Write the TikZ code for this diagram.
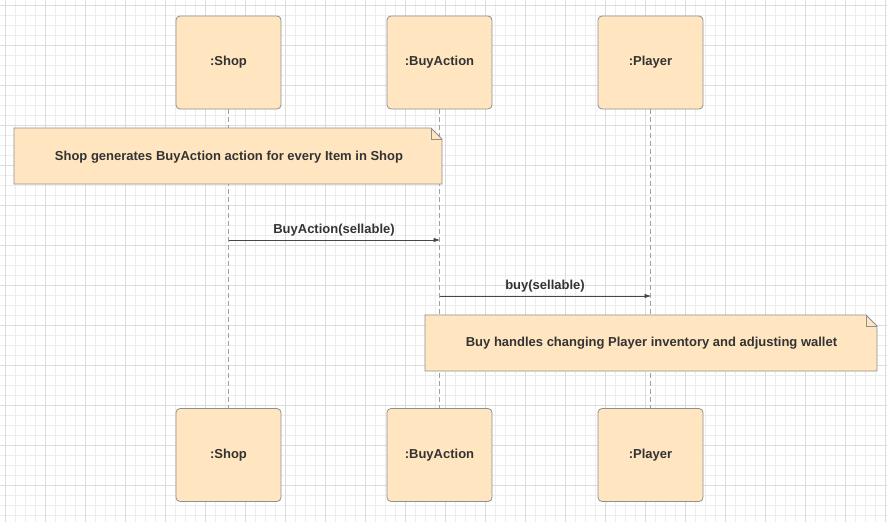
\documentclass[tikz,border=0pt]{standalone}
\usepackage{fontspec}
\setmainfont{Liberation Sans}
\usetikzlibrary{arrows.meta}
\definecolor{boxfill}{HTML}{FFE6C0}
\definecolor{boxline}{HTML}{8F8F8F}
\definecolor{txt}{HTML}{333333}
\definecolor{gridminor}{HTML}{EDEDED}
\definecolor{gridmajor}{HTML}{DCDCDC}
\definecolor{lifeline}{HTML}{A0A0A0}
\tikzset{
  obj/.style={draw=boxline, fill=boxfill, rounded corners=4pt, line width=0.8pt,
    minimum width=105pt, minimum height=93pt, inner sep=0pt,
    font=\fontsize{13}{15}\selectfont\bfseries, text=txt},
  life/.style={draw=lifeline, dash pattern=on 5pt off 3pt, line width=1pt},
  msg/.style={draw=txt!90, line width=0.6pt, -{Triangle[length=6pt,width=4pt]}},
  msglabel/.style={font=\fontsize{13}{15}\selectfont\bfseries, text=txt, inner sep=1pt},
  notetext/.style={font=\fontsize{13}{15}\selectfont\bfseries, text=txt},
  notebox/.style={draw=boxline, fill=boxfill, line width=0.8pt}
}
\begin{document}
\begin{tikzpicture}[x=1pt,y=-1pt]
\useasboundingbox (0,0) rectangle (887,522);
\fill[white] (0,0) rectangle (887,522);
% grid
\foreach \i in {5,15,...,885} {\draw[gridminor, line width=0.8pt] (\i,0) -- (\i,522);}
\foreach \i in {5,15,...,521} {\draw[gridminor, line width=0.8pt] (0,\i) -- (887,\i);}
\foreach \i in {5,45,...,885} {\draw[gridmajor, line width=0.9pt] (\i,0) -- (\i,522);}
\foreach \i in {5,45,...,521} {\draw[gridmajor, line width=0.9pt] (0,\i) -- (887,\i);}
% lifelines
\coordinate (ls) at (228.5,109);
\coordinate (lb) at (439.5,109);
\coordinate (lp) at (650.5,109);
\coordinate (ls2) at (228.5,408);
\coordinate (lb2) at (439.5,408);
\coordinate (lp2) at (650.5,408);
\draw[life] (ls) -- (ls2);
\draw[life] (lb) -- (lb2);
\draw[life] (lp) -- (lp2);
% objects
\node[obj] (shopT) at (228.5,62.5) {\raisebox{-1.5pt}{:Shop}};
\node[obj] (buyT) at (439.5,62.5) {\raisebox{-1.5pt}{:BuyAction}};
\node[obj] (playerT) at (650.5,62.5) {\raisebox{-1.5pt}{:Player}};
\node[obj] (shopB) at (228.5,455) {:Shop};
\node[obj] (buyB) at (439.5,455) {:BuyAction};
\node[obj] (playerB) at (650.5,455) {:Player};
% note 1
\draw[notebox] (14,128) -- (431,128) -- (442,139) -- (442,184) -- (14,184) -- cycle;
\draw[boxline, line width=0.8pt] (431,128) -- (431,139) -- (442,139);
\node[notetext] (note1) at (229,157) {Shop generates BuyAction action for every Item in Shop};
% messages
\coordinate (m1s) at (228.5,240);
\coordinate (m1e) at (439.5,240);
\draw[msg] (m1s) -- (m1e);
\node[msglabel] (m1l) at (334,230) {BuyAction(sellable)};
\coordinate (m2s) at (439.5,296);
\coordinate (m2e) at (650.5,296);
\draw[msg] (m2s) -- (m2e);
\node[msglabel] (m2l) at (545,286) {buy(sellable)};
% note 2
\draw[notebox] (425,315) -- (866,315) -- (877,326) -- (877,371) -- (425,371) -- cycle;
\draw[boxline, line width=0.8pt] (866,315) -- (866,326) -- (877,326);
\node[notetext] (note2) at (651.5,343) {Buy handles changing Player inventory and adjusting wallet};
\end{tikzpicture}
\end{document}
